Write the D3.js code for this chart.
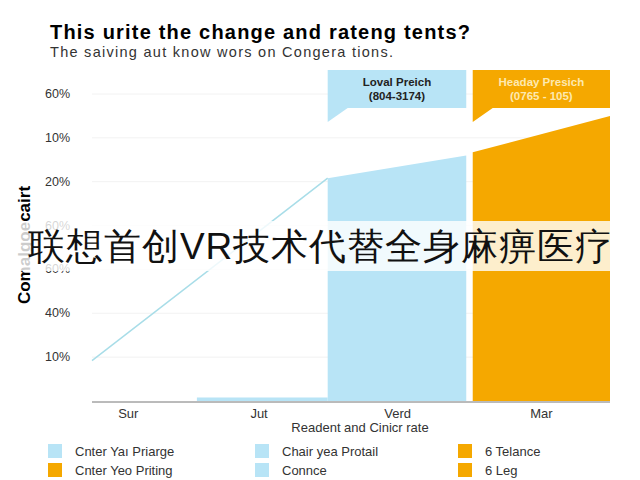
<!DOCTYPE html><html><head><meta charset="utf-8"><script src="https://cdn.jsdelivr.net/npm/d3@7"></script>
<style>body{margin:0;background:#fff}text{font-family:"Liberation Sans",Arial,sans-serif}</style></head><body><svg id="c" width="640" height="480"></svg><script>
const categories=["Sur","Jut","Verd","Mar"];
const categoryPos=[0.28,1.29,2.36,3.47];
const yTickLabels=["10%","40%","60%","60%","20%","10%","60%"];
const yTickPos=[1,2,3,4,5,6,7];
const lineData=[[0,0.92],[1.82,5.08]];
const blueArea=[[1.82,5.08],[2.89,5.6]];
const orangeArea=[[2.94,5.67],[4,6.5]];
const smallBar=[0.81,1.82,0.08];
const legendItems=[["Cnter Yaı Priarge","#b8e4f6"],["Cnter Yeo Priting","#f5a800"],["Chair yea Protail","#b8e4f6"],["Connce","#b8e4f6"],["6 Telance","#f5a800"],["6 Leg","#f5a800"]];
const blue="#b8e4f6",orange="#f5a800";
const svg=d3.select("#c");
const x=d3.scaleLinear().domain([0,4]).range([92,610]);
const y=d3.scaleLinear().domain([0,7]).range([401,94]);
svg.append("text").attr("x",50).attr("y",39).attr("font-size",20).attr("font-weight","bold").attr("textLength",420).text("This urite the change and rateng tents?");
svg.append("text").attr("x",50).attr("y",57).attr("font-size",14.5).attr("fill","#333").attr("textLength",343).text("The saiving aut know wors on Congera tions.");
yTickPos.forEach((p,i)=>{
 svg.append("line").attr("x1",92).attr("x2",610).attr("y1",y(p)).attr("y2",y(p)).attr("stroke","#f2f2f2");
 svg.append("text").attr("x",45).attr("y",y(p)+4).attr("font-size",12.5).attr("fill","#333").text(yTickLabels[i]);
});
const area=d3.area().x(d=>x(d[0])).y0(y(0)).y1(d=>y(d[1]));
svg.append("path").attr("d",area(blueArea)).attr("fill",blue);
svg.append("path").attr("d",area(orangeArea)).attr("fill",orange);
svg.append("rect").attr("x",x(smallBar[0])).attr("width",x(smallBar[1])-x(smallBar[0])).attr("y",y(smallBar[2])).attr("height",y(0)-y(smallBar[2])).attr("fill",blue);
svg.append("path").attr("d",d3.line().x(d=>x(d[0])).y(d=>y(d[1]))(lineData)).attr("stroke","#a8dde8").attr("stroke-width",1.5).attr("fill","none");
svg.append("line").attr("x1",92).attr("x2",610).attr("y1",y(0)+1).attr("y2",y(0)+1).attr("stroke","#777");
categories.forEach((c,i)=>{svg.append("text").attr("x",x(categoryPos[i])).attr("y",418).attr("text-anchor","middle").attr("font-size",13).attr("fill","#333").text(c);});
svg.append("text").attr("x",360).attr("y",432).attr("text-anchor","middle").attr("font-size",13).attr("fill","#333").text("Readent and Cinicr rate");
function callout(x0,x1,col,tc,t1,t2){
 svg.append("path").attr("d",`M${x0},70H${x1}V108H${x0+20}L${x0},122V70Z`).attr("fill",col);
 const cx=(x0+x1)/2;
 svg.append("text").attr("x",cx).attr("y",86).attr("text-anchor","middle").attr("font-size",11.5).attr("font-weight","bold").attr("fill",tc).text(t1);
 svg.append("text").attr("x",cx).attr("y",100).attr("text-anchor","middle").attr("font-size",11.5).attr("font-weight","bold").attr("fill",tc).text(t2);
}
callout(x(1.82),x(2.89),blue,"#222","Loval Preich","(804-3174)");
callout(x(2.94),x(4),orange,"#fde9b0","Headay Presich","(0765 - 105)");
svg.append("text").attr("transform","translate(30,245) rotate(-90)").attr("text-anchor","middle").attr("font-size",17).attr("font-weight","bold").text("Comalgoecairt");
legendItems.forEach((d,i)=>{
 const col=Math.floor(i/2),row=i%2;const lx=[48,255,458][col],ly=[451,470][row];
 svg.append("rect").attr("x",lx).attr("y",ly-7).attr("width",14).attr("height",14).attr("fill",d[1]);
 svg.append("text").attr("x",lx+27).attr("y",ly+5).attr("font-size",13).attr("fill","#333").text(d[0]);
});
svg.append("rect").attr("x",0).attr("y",221).attr("width",640).attr("height",50).attr("fill","rgba(255,255,255,0.8)");
svg.append("text").attr("x",320).attr("y",259).attr("text-anchor","middle").attr("font-size",37).attr("font-family","Noto Sans CJK SC").attr("fill","#111").attr("textLength",584).text("联想首创VR技术代替全身麻痹医疗");
</script></body></html>
